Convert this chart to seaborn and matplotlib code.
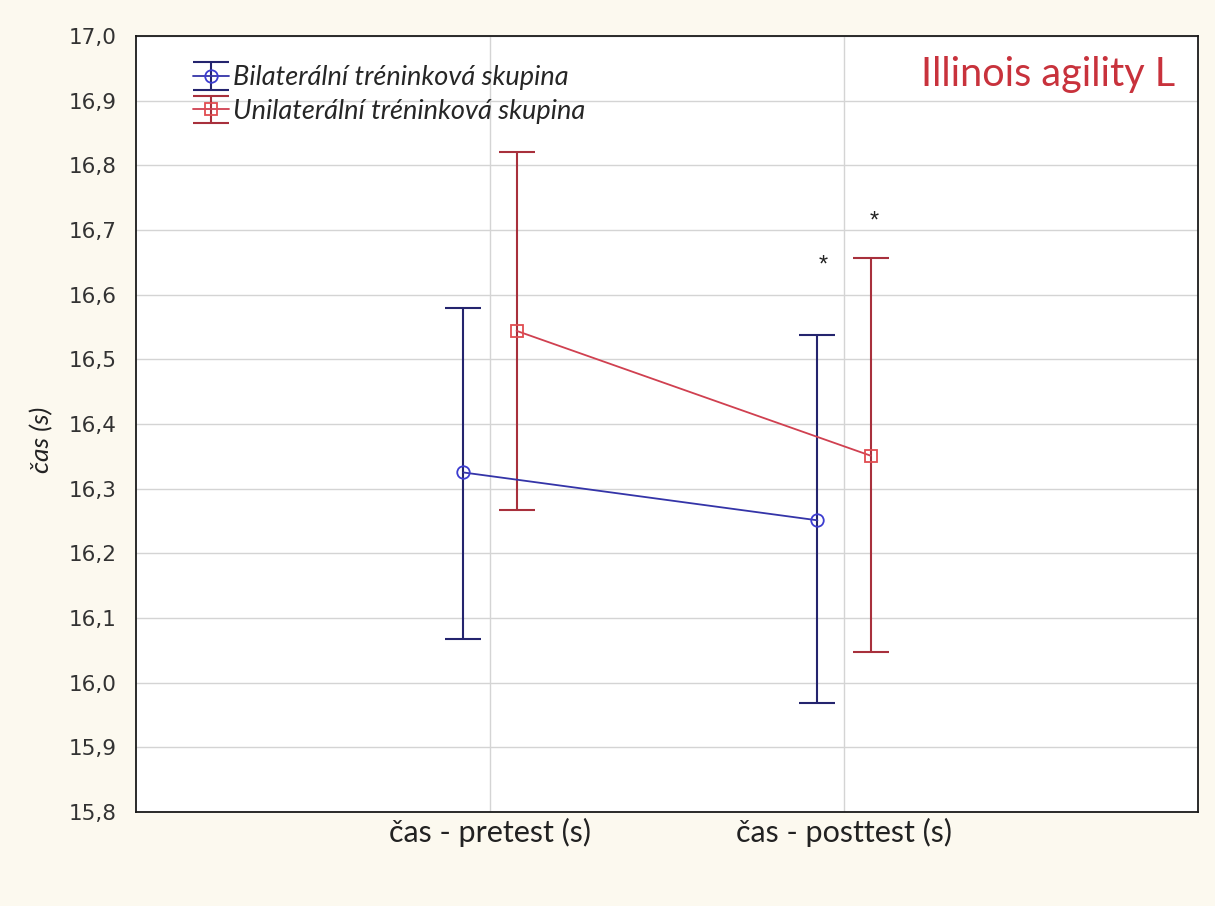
import numpy as np
import pandas as pd
import matplotlib
matplotlib.use("Agg")
import matplotlib.pyplot as plt
import seaborn as sns
from matplotlib.container import ErrorbarContainer
from matplotlib.ticker import MultipleLocator, FuncFormatter

# ---- data ----
categories = ["čas - pretest (s)", "čas - posttest (s)"]
groups = ["Bilaterální tréninková skupina", "Unilaterální tréninková skupina"]
bil_mean = [16.325, 16.251]
bil_low = [16.067, 15.968]
bil_high = [16.580, 16.538]
uni_mean = [16.544, 16.351]
uni_low = [16.267, 16.048]
uni_high = [16.821, 16.657]
star_value = [16.645, 16.713]
title_text = "Illinois agility L"
ylabel_text = "čas (s)"

# ---- style ----
sns.set_theme(style="white")
plt.rcParams["font.family"] = ["Lato", "DejaVu Sans"]

line_cols = {groups[0]: "#3434a8", groups[1]: "#d04050"}
err_cols = {groups[0]: "#24246e", groups[1]: "#a8303c"}
mark_cols = {groups[0]: "#3c3cd0", groups[1]: "#e04c50"}
offsets = {groups[0]: -0.075, groups[1]: 0.075}

rows = []
for g, m, lo, hi in [(groups[0], bil_mean, bil_low, bil_high),
                     (groups[1], uni_mean, uni_low, uni_high)]:
    for i, c in enumerate(categories):
        rows.append(dict(group=g, cat=c, pos=i + offsets[g],
                         mean=m[i], low=lo[i], high=hi[i]))
df = pd.DataFrame(rows)

fig = plt.figure(figsize=(12.15, 9.06), dpi=100, facecolor="#fcf9ef")
ax = fig.add_axes([0.1119, 0.1038, 0.986 - 0.1119, 0.9603 - 0.1038])
ax.set_facecolor("white")

sns.lineplot(data=df, x="pos", y="mean", hue="group", style="group",
             markers={groups[0]: "o", groups[1]: "s"}, dashes=False,
             palette=line_cols, legend=False, sort=False, ax=ax,
             markersize=9, linewidth=1.3, zorder=4)
data_lines = {}
for ln, g in zip(ax.lines, groups):
    ln.set_markerfacecolor("none")
    ln.set_markeredgecolor(mark_cols[g])
    ln.set_markeredgewidth(1.3)
    data_lines[g] = ln

handles = []
for g in groups:
    sub = df[df.group == g]
    eb = ax.errorbar(sub["pos"], sub["mean"],
                     yerr=[sub["mean"] - sub["low"], sub["high"] - sub["mean"]],
                     fmt="none", ecolor=err_cols[g], elinewidth=1.5,
                     capsize=13.3, capthick=1.5, zorder=3)
    h = ErrorbarContainer((data_lines[g], eb.lines[1], eb.lines[2]),
                          has_xerr=False, has_yerr=True, label=g)
    handles.append(h)

# stars
for i, g in enumerate(groups):
    sx = 1 + offsets[g] + (0.015 if i == 0 else 0.01)
    ax.text(sx, star_value[i], "*", ha="center", va="center",
            fontsize=17, color="#222222", family="Liberation Sans")

ax.set_xlim(-1, 2)
ax.set_ylim(15.8, 17.0)
ax.set_xticks(range(len(categories)))
ax.set_xticklabels(categories, fontsize=22, color="#222222")
ax.yaxis.set_major_locator(MultipleLocator(0.1))
ax.yaxis.set_major_formatter(FuncFormatter(lambda v, p: f"{v:.1f}".replace(".", ",")))
for t in ax.get_yticklabels():
    t.set_family("DejaVu Sans")
ax.tick_params(axis="y", labelsize=15.5, labelcolor="#333333", length=0, pad=14)
ax.tick_params(axis="x", length=0, pad=4)
ax.grid(True, color="#d4d4d4", linewidth=1.0)
ax.set_axisbelow(True)
for s in ax.spines.values():
    s.set_color("#1a1a1a")
    s.set_linewidth(1.3)

ax.set_xlabel("")
ax.set_ylabel(ylabel_text, fontsize=19, fontstyle="italic", color="#222222")
ax.yaxis.set_label_coords(-0.078, 0.48)

ax.text(0.978, 0.950, title_text, transform=ax.transAxes, ha="right",
        va="center", fontsize=28.5, color="#c8323c")

leg = ax.legend(handles=handles, loc="upper left",
                bbox_to_anchor=(0.054, 0.962), frameon=False,
                prop=dict(family="Lato", style="italic", size=19.5),
                handlelength=1.3, handletextpad=0.15, labelspacing=0.3,
                borderpad=0, borderaxespad=0)

fig.savefig("out.png", dpi=100, facecolor=fig.get_facecolor())
